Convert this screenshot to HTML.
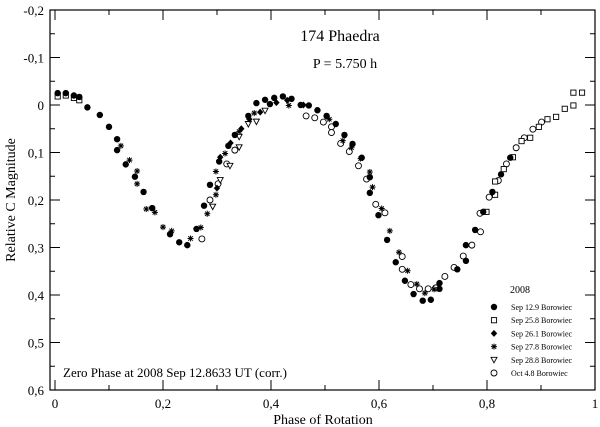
<!DOCTYPE html>
<html><head><meta charset="utf-8"><style>
body{margin:0;background:#fff}
svg{display:block;font-family:"Liberation Serif",serif}
</style></head><body>
<svg id="chart" width="600" height="427">
<rect x="50" y="10" width="545" height="380" fill="none" stroke="#000" stroke-width="1.2"/>
<g id="ticks"></g>
<g id="marks"></g>
<text x="340" y="41" font-size="16" text-anchor="middle">174 Phaedra</text>
<text x="345" y="68" font-size="14" text-anchor="middle">P = 5.750 h</text>
<text x="63" y="377" font-size="13">Zero Phase at 2008 Sep 12.8633 UT (corr.)</text>
<text x="323" y="424" font-size="14" text-anchor="middle">Phase of Rotation</text>
<text transform="translate(15,200) rotate(-90)" font-size="14" text-anchor="middle">Relative C Magnitude</text>
<g id="legend"></g>
</svg>
<script>
const xTicks=[0,0.2,0.4,0.6,0.8,1];
const xTickLabels=["0","0,2","0,4","0,6","0,8","1"];
const yTicks=[-0.2,-0.1,0,0.1,0.2,0.3,0.4,0.5,0.6];
const yTickLabels=["-0,2","-0,1","0","0,1","0,2","0,3","0,4","0,5","0,6"];
const seriesNames=["Sep 12.9 Borowiec","Sep 25.8 Borowiec","Sep 26.1 Borowiec","Sep 27.8 Borowiec","Sep 28.8 Borowiec","Oct 4.8 Borowiec"];
const sep129=[[0.005,-0.025],[0.02,-0.025],[0.035,-0.02],[0.045,-0.017],[0.06,0.005],[0.083,0.021],[0.1,0.046],[0.115,0.072],[0.115,0.095],[0.131,0.125],[0.148,0.151],[0.164,0.183],[0.18,0.217],[0.213,0.272],[0.23,0.289],[0.245,0.295],[0.262,0.261],[0.276,0.212],[0.287,0.168],[0.304,0.119],[0.321,0.086],[0.333,0.063],[0.358,0.023],[0.373,-0.004],[0.389,-0.011],[0.398,-0.002],[0.406,-0.015],[0.422,-0.018],[0.438,-0.013],[0.455,0.0],[0.47,0.001],[0.486,0.011],[0.503,0.023],[0.52,0.04],[0.536,0.063],[0.551,0.082],[0.568,0.111],[0.583,0.152],[0.583,0.185],[0.599,0.232],[0.615,0.284],[0.631,0.331],[0.648,0.37],[0.664,0.398],[0.681,0.412],[0.696,0.41],[0.712,0.375],[0.712,0.387],[0.745,0.346],[0.761,0.328],[0.761,0.295],[0.778,0.263],[0.793,0.225],[0.81,0.183],[0.826,0.146],[0.843,0.111]];
const sep258=[[0.005,-0.018],[0.02,-0.02],[0.035,-0.015],[0.045,-0.01],[0.799,0.225],[0.815,0.189],[0.815,0.161],[0.831,0.135],[0.848,0.11],[0.864,0.076],[0.88,0.069],[0.896,0.046],[0.912,0.03],[0.928,0.025],[0.944,0.008],[0.96,0.001],[0.96,-0.026],[0.976,-0.026]];
const sep261=[[0.3,0.175],[0.306,0.11],[0.325,0.08],[0.345,0.05],[0.36,0.03],[0.38,0.015],[0.41,-0.005],[0.43,-0.01],[0.46,0.0]];
const sep278=[[0.122,0.086],[0.138,0.116],[0.152,0.139],[0.152,0.166],[0.169,0.219],[0.185,0.226],[0.2,0.257],[0.216,0.265],[0.251,0.281],[0.27,0.258],[0.282,0.229],[0.298,0.189],[0.298,0.14],[0.315,0.102],[0.341,0.056],[0.369,0.017],[0.433,0.001],[0.508,0.03],[0.533,0.075],[0.549,0.09],[0.566,0.113],[0.583,0.141],[0.588,0.173],[0.605,0.218],[0.62,0.265],[0.637,0.31],[0.653,0.349],[0.67,0.377],[0.685,0.396],[0.702,0.388]];
const sep288=[[0.292,0.214],[0.306,0.158],[0.324,0.128],[0.341,0.089],[0.341,0.067],[0.358,0.04],[0.373,0.035],[0.389,0.012]];
const oct48=[[0.272,0.282],[0.287,0.2],[0.302,0.166],[0.318,0.124],[0.333,0.095],[0.465,0.023],[0.481,0.027],[0.497,0.036],[0.512,0.046],[0.512,0.058],[0.529,0.081],[0.545,0.098],[0.562,0.128],[0.577,0.156],[0.594,0.209],[0.611,0.227],[0.643,0.319],[0.643,0.346],[0.659,0.378],[0.675,0.387],[0.691,0.387],[0.705,0.385],[0.722,0.361],[0.739,0.342],[0.756,0.318],[0.772,0.295],[0.788,0.267],[0.787,0.228],[0.804,0.194],[0.821,0.159],[0.836,0.124],[0.854,0.09],[0.869,0.069],[0.885,0.051],[0.901,0.036]];

const NS="http://www.w3.org/2000/svg";
const xs=v=>55+v*540;
const ys=v=>10+(v+0.2)*475;
function mk(t,a,p){const e=document.createElementNS(NS,t);for(const k in a)e.setAttribute(k,a[k]);p.appendChild(e);return e;}
const tg=document.getElementById('ticks');
for(let i=0;i<=10;i++){const v=i/10,x=xs(v),L=i%2?5:10;
 const t=mk('line',{x1:x,x2:x,y1:390,y2:390-L,stroke:'#000'},tg);
 
 
 const t2=mk('line',{x1:x,x2:x,y1:10,y2:10+L,stroke:'#000'},tg);
 
 }
xTicks.forEach((v,i)=>{const t=mk('text',{x:xs(v),y:408,'font-size':13,'text-anchor':'middle'},tg);t.textContent=xTickLabels[i];
 
 });
for(let i=0;i<=16;i++){const v=-0.2+i*0.05,y=ys(v),L=i%2?5:10;
 const t=mk('line',{x1:50,x2:50+L,y1:y,y2:y,stroke:'#000'},tg);
 
 
 const t2=mk('line',{x1:595,x2:595-L,y1:y,y2:y,stroke:'#000'},tg);
 
 }
yTicks.forEach((v,i)=>{const t=mk('text',{x:44,y:ys(v)+5,'font-size':13,'text-anchor':'end'},tg);t.textContent=yTickLabels[i];
 
 });
function marker(kind,x,y,p){
 if(kind==0)return mk('circle',{cx:x,cy:y,r:3.2,fill:'#000'},p);
 if(kind==1)return mk('rect',{x:x-2.6,y:y-2.6,width:5.2,height:5.2,fill:'#fff',stroke:'#000','stroke-width':0.9},p);
 if(kind==2)return mk('path',{d:`M${x},${y-3.5}L${x+3.2},${y}L${x},${y+3.5}L${x-3.2},${y}Z`,fill:'#000'},p);
 if(kind==3)return mk('path',{d:`M${x-3},${y}H${x+3}M${x},${y-3}V${y+3}M${x-2.2},${y-2.2}L${x+2.2},${y+2.2}M${x-2.2},${y+2.2}L${x+2.2},${y-2.2}`,stroke:'#000','stroke-width':1},p);
 if(kind==4)return mk('path',{d:`M${x-3},${y-2.5}H${x+3}L${x},${y+3}Z`,fill:'#fff',stroke:'#000','stroke-width':0.9},p);
 return mk('circle',{cx:x,cy:y,r:3,fill:'#fff',stroke:'#000','stroke-width':0.9},p);
}
const all=[sep129,sep258,sep261,sep278,sep288,oct48];
const mg=document.getElementById('marks');
const order=[5,4,1,3,2,0];
order.forEach(k=>all[k].forEach(d=>{const m=marker(k,xs(d[0]),ys(d[1]),mg);
 
 }));
const lg=document.getElementById('legend');


const lt=mk('text',{x:510,y:293,'font-size':10},lg);lt.textContent='2008';


seriesNames.forEach((n,i)=>{const y=307+i*13.2;
 const m=marker(i,494,y,lg);
 
 
 const t=mk('text',{x:511,y:y+3,'font-size':8},lg);t.textContent=n;
 
 });
</script>
</body></html>
